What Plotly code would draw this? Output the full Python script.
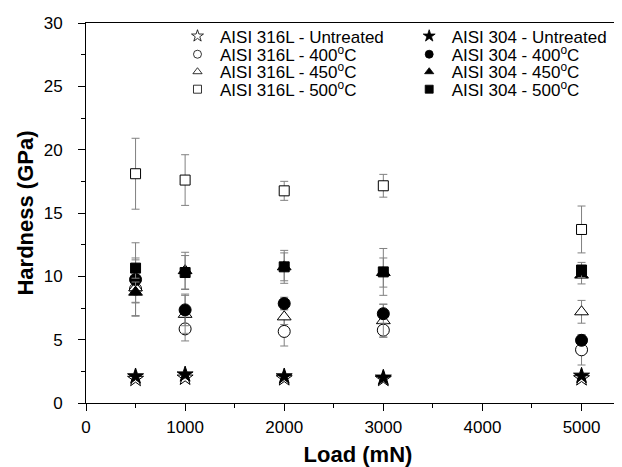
import plotly.graph_objects as go

loads = [500, 1000, 2000, 3000, 5000]

h316_untreated = [1.9, 2.0, 1.95, 1.9, 1.95]
e316_untreated = [0.15, 0.15, 0.15, 0.15, 0.15]
h316_400 = [9.0, 5.85, 5.65, 5.75, 4.2]
e316_400 = [1.1, 0.95, 1.15, 0.55, 1.2]
h316_450 = [9.1, 7.0, 6.8, 6.5, 7.2]
e316_450 = [2.2, 1.5, 0.6, 1.3, 0.9]
h316_500 = [18.1, 17.6, 16.75, 17.15, 13.7]
e316_500 = [2.8, 2.0, 0.75, 0.9, 1.85]

h304_untreated = [2.1, 2.25, 2.1, 2.0, 2.15]
e304_untreated = [0.15, 0.15, 0.15, 0.15, 0.15]
h304_400 = [9.75, 7.35, 7.85, 7.05, 4.95]
e304_400 = [2.9, 1.25, 0.5, 0.75, 0.4]
h304_450 = [8.75, 10.45, 10.75, 10.3, 10.1]
e304_450 = [0.8, 1.45, 1.1, 1.15, 0.7]
h304_500 = [10.65, 10.3, 10.75, 10.35, 10.5]
e304_500 = [0.8, 1.34, 1.3, 1.85, 0.6]

x_ticks = [0, 1000, 2000, 3000, 4000, 5000]
y_ticks = [0, 5, 10, 15, 20, 25, 30]

FONT = "Arial, Liberation Sans, sans-serif"

series = [
    ("AISI 316L - Untreated", h316_untreated, e316_untreated, "star", False, 12),
    ("AISI 316L - 400<sup>o</sup>C", h316_400, e316_400, "circle", False, 12),
    ("AISI 316L - 450<sup>o</sup>C", h316_450, e316_450, "triangle-up", False, 12),
    ("AISI 316L - 500<sup>o</sup>C", h316_500, e316_500, "square", False, 10),
    ("AISI 304 - Untreated", h304_untreated, e304_untreated, "star", True, 12),
    ("AISI 304 - 400<sup>o</sup>C", h304_400, e304_400, "circle", True, 12),
    ("AISI 304 - 450<sup>o</sup>C", h304_450, e304_450, "triangle-up", True, 12),
    ("AISI 304 - 500<sup>o</sup>C", h304_500, e304_500, "square", True, 10),
]

legend_x = [0.1636] * 4 + [0.5895] * 4
legend_y = [1.012, 0.964, 0.918, 0.872] * 2

fig = go.Figure()
for name, ys, es, sym, filled, size in series:
    fig.add_trace(go.Scatter(
        x=loads, y=ys, mode="markers", name=name, showlegend=False,
        marker=dict(symbol=sym, size=size, color="black" if filled else "white",
                    line=dict(color="black", width=1)),
        error_y=dict(type="data", array=es, visible=True, color="#808080",
                     thickness=1, width=4),
    ))

legend_layouts = {}
for i, (name, ys, es, sym, filled, size) in enumerate(series):
    key = "legend" if i == 0 else f"legend{i + 1}"
    fig.add_trace(go.Scatter(
        x=[None], y=[None], mode="markers", name=name, legend=key, showlegend=True,
        marker=dict(symbol=sym, size=8 if sym != "star" else 9,
                    color="black" if filled else "white",
                    line=dict(color="black", width=0.8)),
    ))
    legend_layouts[key] = dict(
        x=legend_x[i], y=legend_y[i], xanchor="left", yanchor="top",
        bgcolor="rgba(0,0,0,0)", font=dict(size=17, family=FONT, color="black"),
        itemsizing="trace", itemwidth=35, borderwidth=0,
    )

fig.update_layout(
    width=622, height=467,
    margin=dict(l=78, r=0, t=15, b=72),
    paper_bgcolor="white", plot_bgcolor="white",
    font=dict(family=FONT, size=17, color="black"),
    xaxis=dict(range=[0, 5489], tickvals=x_ticks, ticktext=[str(v) for v in x_ticks],
               showgrid=False, zeroline=False, showline=True, linecolor="black",
               linewidth=1, mirror=True, ticks="outside", ticklen=7, tickcolor="black",
               minor=dict(dtick=500, ticks="outside", ticklen=4, tickcolor="black"),
               ticklabelstandoff=2,
               title=dict(text="<b>Load (mN)</b>", font=dict(size=22, family=FONT), standoff=10),
               tickfont=dict(size=17), automargin=False),
    yaxis=dict(range=[0, 30], tickvals=y_ticks, ticktext=[str(v) for v in y_ticks],
               showgrid=False, zeroline=False, showline=True, linecolor="black",
               linewidth=1, ticks="outside", ticklen=7, tickcolor="black",
               minor=dict(dtick=2.5, ticks="outside", ticklen=4, tickcolor="black"),
               ticklabelstandoff=12,
               title=dict(text="<b>Hardness (GPa)</b>", font=dict(size=22, family=FONT), standoff=3),
               tickfont=dict(size=17), automargin=False),
    **legend_layouts,
)

fig.write_html("out.html")
